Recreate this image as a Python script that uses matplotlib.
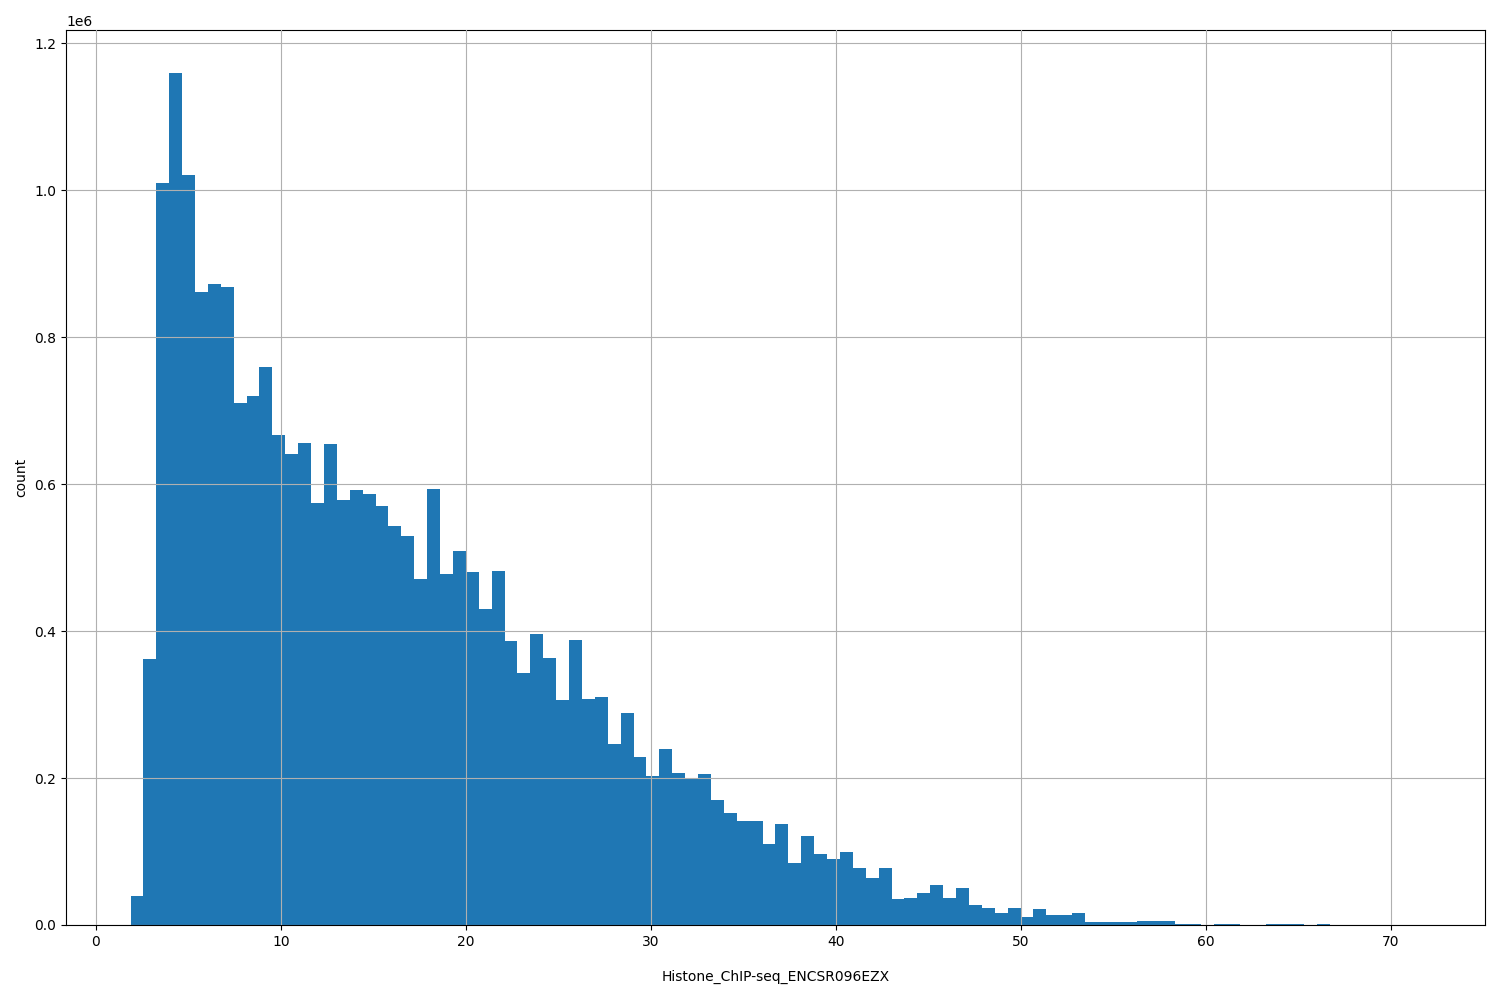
import matplotlib.pyplot as plt
import numpy as np

# bin range of the data
x_min = 1.87
x_max = 71.6
n_bins = 100

counts_1e6 = [
    0.040, 0.362, 1.010, 1.160, 1.020, 0.862, 0.872, 0.868, 0.710, 0.720,
    0.760, 0.667, 0.641, 0.656, 0.574, 0.654, 0.578, 0.592, 0.586, 0.570,
    0.543, 0.530, 0.471, 0.594, 0.478, 0.509, 0.481, 0.430, 0.482, 0.387,
    0.343, 0.396, 0.363, 0.306, 0.388, 0.308, 0.310, 0.247, 0.288, 0.228,
    0.203, 0.240, 0.207, 0.200, 0.205, 0.170, 0.153, 0.142, 0.142, 0.110,
    0.138, 0.085, 0.121, 0.096, 0.090, 0.099, 0.078, 0.064, 0.078, 0.035,
    0.037, 0.044, 0.055, 0.037, 0.050, 0.027, 0.023, 0.017, 0.023, 0.011,
    0.022, 0.013, 0.013, 0.017, 0.004, 0.004, 0.004, 0.004, 0.006, 0.006,
    0.005, 0.001, 0.001, 0.0005, 0.001, 0.002, 0.0005, 0.0005, 0.001, 0.001,
    0.001, 0.0005, 0.001, 0.0003, 0.0003, 0.0003, 0.0003, 0.0003, 0.0003, 0.0003,
]

edges = np.linspace(x_min, x_max, n_bins + 1)
heights = np.array(counts_1e6) * 1e6

fig, ax = plt.subplots(figsize=(15, 10), dpi=100)
ax.hist(edges[:-1], bins=edges, weights=heights, color='#1f77b4')
ax.grid(True)
ax.set_axisbelow(False)
ax.set_xlabel('Histone_ChIP-seq_ENCSR096EZX', labelpad=15)
ax.set_ylabel('count')

plt.subplots_adjust(left=0.044, right=0.99, top=0.97, bottom=0.075)
plt.savefig('out.png')
